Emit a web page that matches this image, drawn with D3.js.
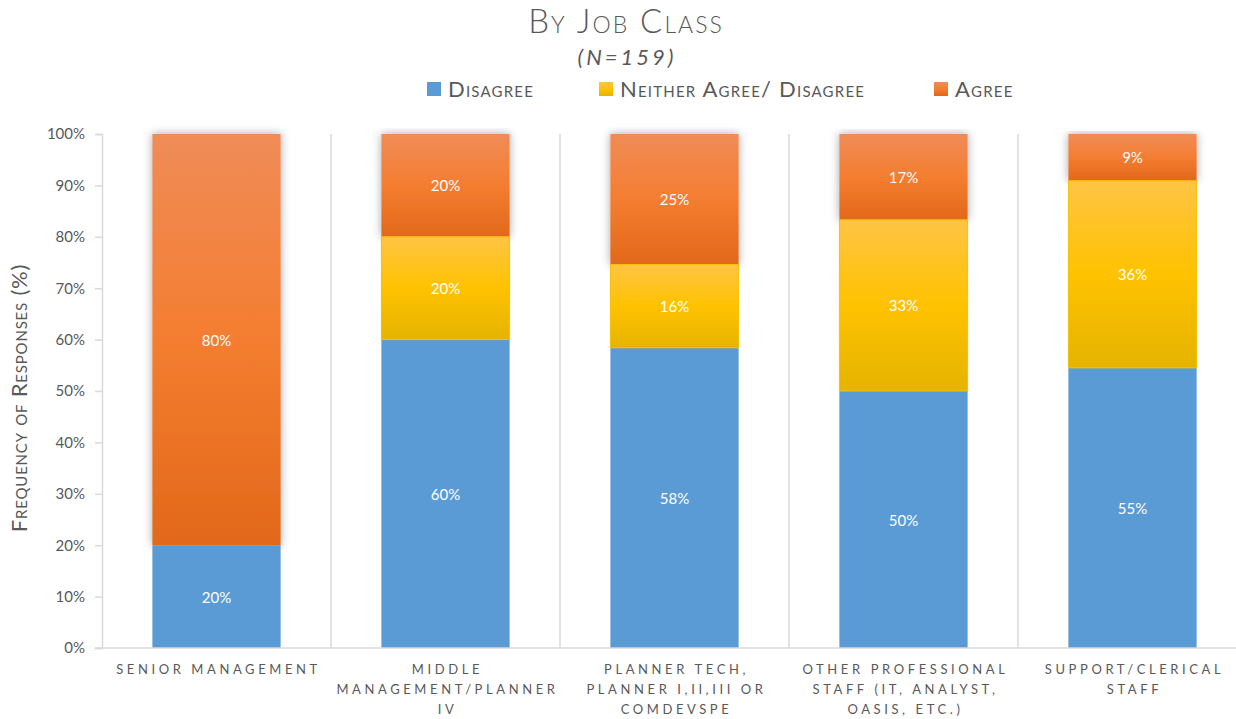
<!DOCTYPE html>
<html>
<head>
<meta charset="utf-8">
<script src="https://cdn.jsdelivr.net/npm/d3@7"></script>
<style>
    body { margin: 0; background: #fff; }
    text { font-family: Lato, "Open Sans", sans-serif; fill: #595959; }
</style>
</head>
<body>
<div id="root"></div>
<script>
// chart data
var categories = [
    ["Senior Management"],
    ["Middle", "Management/Planner", "IV"],
    ["Planner Tech,", "Planner I,II,III or", "ComDevSpe"],
    ["Other Professional", "Staff (IT, Analyst,", "OASIS, etc.)"],
    ["Support/Clerical", "Staff"]
];
var seriesNames = ["Disagree", "Neither Agree/ Disagree", "Agree"];
var disagree = [20, 60, 58.4, 50, 54.5];
var neither = [0, 20, 16.2, 33.3, 36.4];
var agree = [80, 20, 25.4, 16.7, 9.1];
var yTicks = [0, 10, 20, 30, 40, 50, 60, 70, 80, 90, 100];

var W = 1236, H = 719;
var margin = { top: 134, left: 102, bottom: 71 };
var plotRight = 1247;
var plotBottom = H - margin.bottom;

var svg = d3.select("#root")
    .append("svg")
    .attr("width", W)
    .attr("height", H);

var defs = svg.append("defs");

// gradients like the office style fills
function grad(id, stops) {
    var g = defs.append("linearGradient")
        .attr("id", id)
        .attr("x1", 0).attr("y1", 0).attr("x2", 0).attr("y2", 1);
    stops.forEach((s) => {
        g.append("stop").attr("offset", s[0]).attr("stop-color", s[1]);
    });
}
grad("gOrange", [[0, "#f08c58"], [0.5, "#f47d30"], [1, "#e2681a"]]);
grad("gYellow", [[0, "#ffc445"], [0.5, "#ffc200"], [1, "#e5b300"]]);

var shadow = defs.append("filter")
    .attr("id", "shadow")
    .attr("x", "-20%").attr("y", "-5%")
    .attr("width", "140%").attr("height", "110%");
shadow.append("feDropShadow")
    .attr("dx", 0).attr("dy", 0)
    .attr("stdDeviation", 5)
    .attr("flood-color", "#000")
    .attr("flood-opacity", 0.35);

var rows = categories.map((c, i) => ({
    idx: i,
    Disagree: disagree[i],
    Neither: neither[i],
    Agree: agree[i]
}));
var keys = ["Disagree", "Neither", "Agree"];
var stacked = d3.stack().keys(keys)(rows);

var x = d3.scaleBand()
    .domain(d3.range(categories.length))
    .range([margin.left, plotRight])
    .paddingInner(0.44)
    .paddingOuter(0.22);

var y = d3.scaleLinear()
    .domain([0, 100])
    .range([plotBottom, margin.top]);

// category separators
var step = x.step();
svg.append("g")
    .selectAll("line")
    .data(d3.range(1, categories.length))
    .enter()
    .append("line")
    .attr("x1", (d) => margin.left + d * step)
    .attr("x2", (d) => margin.left + d * step)
    .attr("y1", y(100))
    .attr("y2", plotBottom)
    .attr("stroke", "#d9d9d9")
    .attr("stroke-width", 1.5);

// y axis
var yAxis = svg.append("g")
    .attr("transform", "translate(" + margin.left + ",0)")
    .call(d3.axisLeft(y).tickValues(yTicks).tickSize(7).tickPadding(10)
        .tickFormat((d) => d + "%"));
yAxis.select(".domain").attr("stroke", "#d9d9d9").attr("stroke-width", 1.5);
yAxis.selectAll(".tick line").attr("stroke", "#d9d9d9").attr("stroke-width", 1.5);
yAxis.selectAll(".tick text")
    .style("font-size", "15px")
    .style("fill", "#595959");

// bars, top series first so its shadow stays under the others
var fills = { Disagree: "#5b9bd5", Neither: "url(#gYellow)", Agree: "url(#gOrange)" };
var order = [2, 0, 1];
order.forEach((k) => {
    var layer = stacked[k];
    var key = layer.key;
    svg.append("g")
        .selectAll("rect")
        .data(layer.filter((d) => d[1] - d[0] > 0))
        .enter()
        .append("rect")
        .attr("x", (d) => x(d.data.idx))
        .attr("y", (d) => y(d[1]))
        .attr("width", x.bandwidth())
        .attr("height", (d) => y(d[0]) - y(d[1]))
        .attr("fill", fills[key])
        .attr("stroke", key === "Neither" ? "#f5c000" : "none")
        .attr("stroke-width", 1)
        .attr("filter", key === "Agree" ? "url(#shadow)" : null);
});

// data labels
stacked.forEach((layer) => {
    svg.append("g")
        .selectAll("text")
        .data(layer.filter((d) => d[1] - d[0] > 0))
        .enter()
        .append("text")
        .attr("x", (d) => x(d.data.idx) + x.bandwidth() / 2)
        .attr("y", (d) => (y(d[0]) + y(d[1])) / 2)
        .attr("text-anchor", "middle")
        .attr("dominant-baseline", "central")
        .style("fill", "#ffffff")
        .style("font-size", "15px")
        .text((d) => Math.round(d[1] - d[0]) + "%");
});

// x baseline
svg.append("line")
    .attr("x1", margin.left - 7)
    .attr("x2", W)
    .attr("y1", plotBottom)
    .attr("y2", plotBottom)
    .attr("stroke", "#d9d9d9")
    .attr("stroke-width", 1.5);

// x labels
var xl = svg.append("g")
    .selectAll("text")
    .data(categories)
    .enter()
    .append("text")
    .attr("text-anchor", "middle")
    .style("font-size", "13px")
    .style("letter-spacing", "3.6px")
    .attr("transform", (d, i) => "translate(" + (x(i) + x.bandwidth() / 2 + 2) + ",674)");
xl.selectAll("tspan")
    .data((d) => d)
    .enter()
    .append("tspan")
    .attr("x", 0)
    .attr("dy", (d, i) => (i === 0 ? 0 : 20))
    .text((d) => d.toUpperCase());

// title
svg.append("text")
    .attr("x", 626)
    .attr("y", 33)
    .attr("text-anchor", "middle")
    .style("font-size", "33px")
    .style("font-variant", "small-caps")
    .style("letter-spacing", "2px")
    .style("font-weight", 300)
    .text("By Job Class");

svg.append("text")
    .attr("x", 627)
    .attr("y", 65)
    .attr("text-anchor", "middle")
    .style("font-size", "22px")
    .style("font-style", "italic")
    .style("letter-spacing", "3px")
    .text("(N=159)");

// legend
var legendX = [427, 599, 934];
var legendColors = ["#5b9bd5", "url(#gYellow)", "url(#gOrange)"];
var legend = svg.append("g")
    .selectAll("g")
    .data(seriesNames)
    .enter()
    .append("g")
    .attr("transform", (d, i) => "translate(" + legendX[i] + ",82)");
legend.append("rect")
    .attr("width", 14)
    .attr("height", 14)
    .attr("fill", (d, i) => legendColors[i]);
legend.append("text")
    .attr("x", 21)
    .attr("y", 15)
    .style("font-size", "22px")
    .style("letter-spacing", "1.2px")
    .style("font-variant", "small-caps")
    .text((d) => d);

// y axis title
svg.append("text")
    .attr("transform", "translate(27,398) rotate(-90)")
    .attr("text-anchor", "middle")
    .style("font-size", "22px")
    .style("letter-spacing", "0.8px")
    .style("font-variant", "small-caps")
    .text("Frequency of Responses (%)");
</script>
</body>
</html>
